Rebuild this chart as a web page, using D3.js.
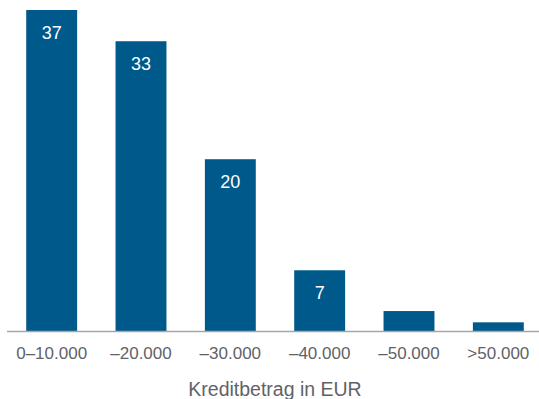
<!DOCTYPE html>
<html>
<head>
<meta charset="utf-8">
<script src="https://cdn.jsdelivr.net/npm/d3@7"></script>
<style>
  body { margin: 0; background: #fff; }
  svg { display: block; font-family: Arial, "Liberation Sans", sans-serif; }
</style>
</head>
<body>
<div id="chart"></div>
<script>
// data
var categories = ["0–10.000", "–20.000", "–30.000", "–40.000", "–50.000", ">50.000"];
var values = [37, 33.4, 19.8, 7, 2.3, 1];
var valueLabels = ["37", "33", "20", "7", "", ""];
var axisTitle = "Kreditbetrag in EUR";

var width = 539, height = 399;
var baseY = 331, topY = 10;

var svg = d3.select("#chart")
  .append("svg")
  .attr("width", width)
  .attr("height", height);

var x = d3.scaleBand()
  .domain(categories)
  .range([7, 543])
  .paddingInner(0.43)
  .paddingOuter(0.215);

var y = d3.scaleLinear()
  .domain([0, 37])
  .range([baseY, topY]);

// bars
svg.selectAll("rect.bar")
  .data(values)
  .enter().append("rect")
  .attr("class", "bar")
  .attr("x", (d, i) => x(categories[i]))
  .attr("y", d => y(d))
  .attr("width", x.bandwidth())
  .attr("height", d => baseY - y(d))
  .attr("fill", "#00598b");

// value labels inside bars
svg.selectAll("text.val")
  .data(values)
  .enter().append("text")
  .attr("class", "val")
  .attr("x", (d, i) => x(categories[i]) + x.bandwidth() / 2)
  .attr("y", d => y(d) + 29)
  .attr("text-anchor", "middle")
  .attr("fill", "#fff")
  .style("font-size", "18px")
  .text((d, i) => valueLabels[i]);

// x axis
var xAxis = svg.append("g")
  .attr("transform", `translate(0,${baseY})`)
  .call(d3.axisBottom(x).tickSize(0).tickSizeOuter(0).tickPadding(0));

xAxis.select(".domain")
  .attr("d", "M7,0.5H539")
  .attr("stroke", "#a6a6a6")
  .attr("stroke-width", 1.5);

xAxis.selectAll(".tick text")
  .attr("dy", null)
  .attr("y", 28)
  .attr("fill", "#5f6368")
  .style("font-size", "17px")
  .style("font-family", "Arial, 'Liberation Sans', sans-serif");

// axis title
svg.append("text")
  .attr("x", 275)
  .attr("y", 396)
  .attr("text-anchor", "middle")
  .attr("fill", "#5f6368")
  .style("font-size", "19.5px")
  .text(axisTitle);
</script>
</body>
</html>
